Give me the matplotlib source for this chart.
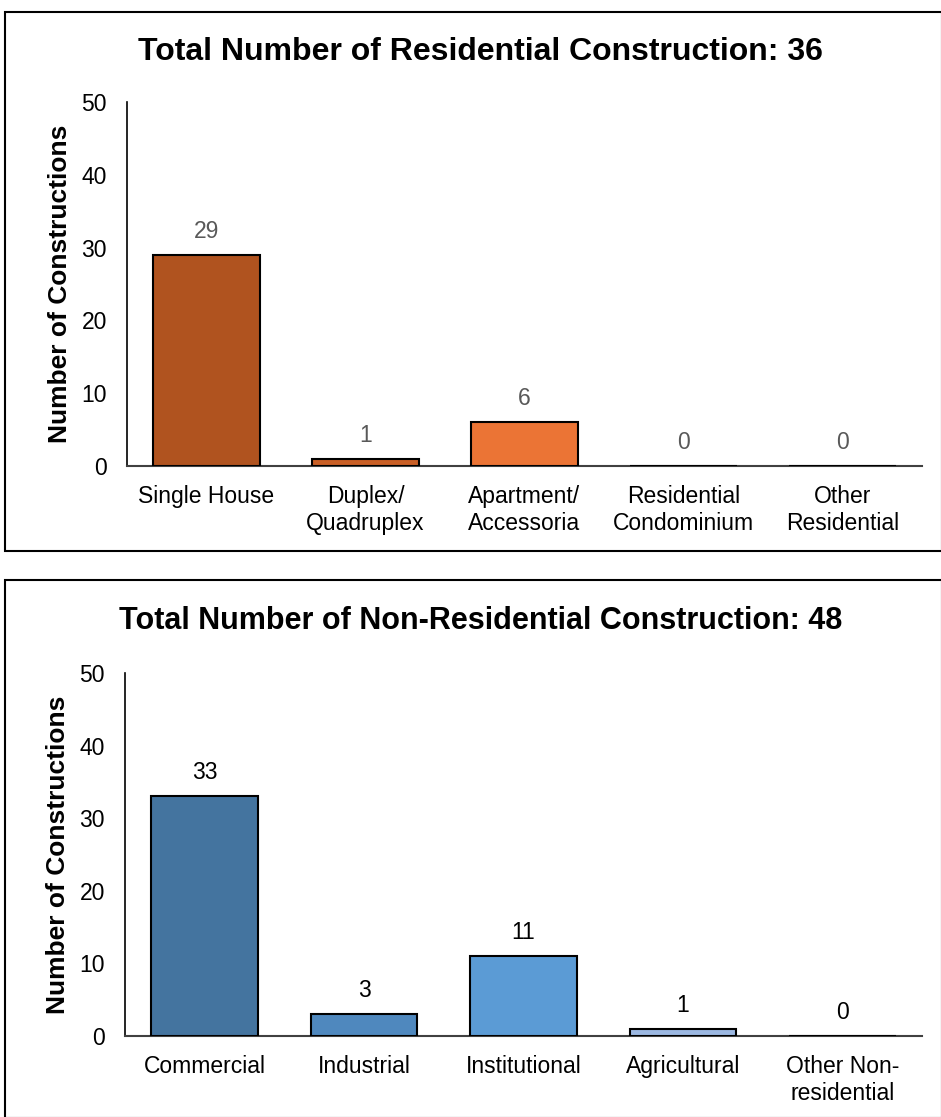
import matplotlib.pyplot as plt
import matplotlib.patches as patches
import numpy as np

plt.rcParams['font.family'] = ['Liberation Sans', 'DejaVu Sans']

res_labels = ["Single House", "Duplex/\nQuadruplex", "Apartment/\nAccessoria",
              "Residential\nCondominium", "Other\nResidential"]
res_values = [29, 1, 6, 0, 0]
res_colors = ['#B0531F', '#C95F26', '#EB7435', '#EB7435', '#EB7435']

nonres_labels = ["Commercial", "Industrial", "Institutional", "Agricultural",
                 "Other Non-\nresidential"]
nonres_values = [33, 3, 11, 1, 0]
nonres_colors = ['#44749F', '#4F88BE', '#5B9BD5', '#9CB8E2', '#9CB8E2']

W, H = 941, 1117
fig = plt.figure(figsize=(W / 100, H / 100), dpi=100)

def px_axes(left, top, right, bottom):
    return fig.add_axes([left / W, 1 - bottom / H, (right - left) / W, (bottom - top) / H])

def draw(ax, labels, values, colors, label_color):
    x = np.arange(len(labels))
    ax.bar(x, values, width=0.67, color=colors, edgecolor='black', linewidth=1.5, zorder=3)
    for xi, v in zip(x, values):
        ax.annotate(str(v), (xi, v), xytext=(0, 17), textcoords='offset points',
                    ha='center', va='center', fontsize=16.5, color=label_color)
    ax.set_xlim(-0.5, len(labels) - 0.5)
    ax.set_ylim(0, 50)
    ax.set_yticks(range(0, 51, 10))
    ax.set_xticks(x)
    ax.set_xticklabels(labels, fontsize=16.5)
    ax.tick_params(axis='y', labelsize=16.5, length=0, pad=14.5)
    ax.tick_params(axis='x', length=0, pad=14)
    for s in ['top', 'right']:
        ax.spines[s].set_visible(False)
    ax.spines['left'].set_color('black')
    ax.spines['bottom'].set_color('#404040')
    ax.spines['left'].set_linewidth(1.2)
    ax.spines['bottom'].set_linewidth(1.5)
    ax.set_ylabel("Number of Constructions", fontsize=19, fontweight='bold', labelpad=7)

# frames
fig.patches.append(patches.Rectangle((5 / W, 1 - 551 / H), (W - 4) / W, (551 - 12) / H,
                                     transform=fig.transFigure, fill=False,
                                     edgecolor='black', linewidth=1.5))
fig.patches.append(patches.Rectangle((5 / W, 1 - 1118 / H), (W - 4) / W, (1118 - 580) / H,
                                     transform=fig.transFigure, fill=False,
                                     edgecolor='black', linewidth=1.5))

ax1 = px_axes(127, 102, 922, 466)
draw(ax1, res_labels, res_values, res_colors, '#595959')
fig.text(480 / W, 1 - 52 / H, "Total Number of Residential Construction: 36",
         ha='center', va='center', fontsize=23, fontweight='bold')

ax2 = px_axes(125, 673, 922, 1036)
draw(ax2, nonres_labels, nonres_values, nonres_colors, 'black')
fig.text(481 / W, 1 - 621 / H, "Total Number of Non-Residential Construction: 48",
         ha='center', va='center', fontsize=22, fontweight='bold')

fig.savefig('out.png', dpi=100)
